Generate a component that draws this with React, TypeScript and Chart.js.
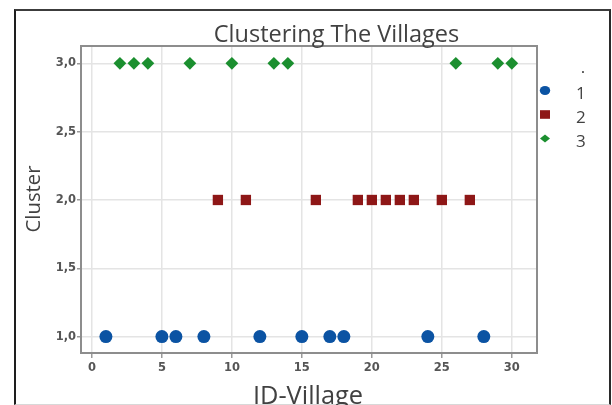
import React, { useEffect, useRef } from "react";
import { Chart, registerables } from "chart.js";

Chart.register(...registerables);

// ---- data ----
const cluster1Villages = [1, 5, 6, 8, 12, 15, 17, 18, 24, 28];
const cluster2Villages = [9, 11, 16, 19, 20, 21, 22, 23, 25, 27];
const cluster3Villages = [2, 3, 4, 7, 10, 13, 14, 26, 29, 30];
const clusterNames = ["1", "2", "3"];
const clusterValues = [1, 2, 3];
const xTickValues = [0, 5, 10, 15, 20, 25, 30];
const yTickValues = [1.0, 1.5, 2.0, 2.5, 3.0];
const yTickLabels = ["1,0", "1,5", "2,0", "2,5", "3,0"];
const chartTitle = "Clustering The Villages";
const xAxisTitle = "ID-Village";
const yAxisTitle = "Cluster";
const legendTitle = ".";

const colors = ["#0b53a3", "#8e1717", "#1b8f2f"];
const pointStyles = ["circle", "rect", "rectRot"];
const pointRadii = [6.5, 7.3, 6.4];

const textFont = '"Open Sans", "Noto Sans", sans-serif';
const tickFont = { family: '"DejaVu Sans", sans-serif', size: 11.5, weight: "bold" as const };

function drawLegendMarker(ctx: CanvasRenderingContext2D, style: string, x: number, y: number, color: string) {
  ctx.fillStyle = color;
  ctx.beginPath();
  if (style === "circle") {
    ctx.ellipse(x, y, 5.2, 4.6, 0, 0, Math.PI * 2);
  } else if (style === "rect") {
    ctx.rect(x - 5, y - 4.3, 10, 8.6);
  } else {
    ctx.moveTo(x - 5, y);
    ctx.lineTo(x, y - 4);
    ctx.lineTo(x + 5, y);
    ctx.lineTo(x, y + 4);
    ctx.closePath();
  }
  ctx.fill();
}

const decorPlugin = {
  id: "decor",
  afterDraw(chart: any) {
    const ctx: CanvasRenderingContext2D = chart.ctx;
    const area = chart.chartArea;
    ctx.save();
    // plot frame
    ctx.strokeStyle = "#8d8d8d";
    ctx.lineWidth = 2;
    ctx.strokeRect(area.left, area.top, area.right - area.left, area.bottom - area.top);

    // title
    ctx.fillStyle = "#414141";
    ctx.textAlign = "center";
    ctx.textBaseline = "alphabetic";
    ctx.font = `23.5px ${textFont}`;
    ctx.fillText(chartTitle, 336.5, 42);

    // x axis title
    ctx.font = `25.4px ${textFont}`;
    ctx.fillText(xAxisTitle, 308, 404);

    // y axis title
    ctx.save();
    ctx.translate(39.5, 199);
    ctx.rotate(-Math.PI / 2);
    ctx.font = `20.3px ${textFont}`;
    ctx.fillText(yAxisTitle, 0, 0);
    ctx.restore();

    // legend
    ctx.font = `17px ${textFont}`;
    ctx.fillStyle = "#414141";
    ctx.textAlign = "center";
    ctx.fillText(legendTitle, 583, 73);
    ctx.textAlign = "left";
    chart.data.datasets.forEach((ds: any, i: number) => {
      const baseY = 99 + i * 24;
      drawLegendMarker(ctx, pointStyles[i], 545, baseY - 8.5, colors[i]);
      ctx.fillStyle = "#414141";
      ctx.fillText(ds.label, 576, baseY);
    });
    ctx.restore();
  },
};

export default function App() {
  const canvasRef = useRef<HTMLCanvasElement | null>(null);

  useEffect(() => {
    if (!canvasRef.current) return;
    const groups = [cluster1Villages, cluster2Villages, cluster3Villages];
    const chart = new Chart(canvasRef.current, {
      type: "scatter",
      data: {
        datasets: groups.map((villages, i) => ({
          label: clusterNames[i],
          data: villages.map((v) => ({ x: v, y: clusterValues[i] })),
          pointStyle: pointStyles[i] as any,
          pointRadius: pointRadii[i],
          pointHoverRadius: pointRadii[i],
          backgroundColor: colors[i],
          borderColor: colors[i],
          borderWidth: 0,
          clip: false as any,
        })),
      },
      options: {
        animation: false,
        responsive: false,
        maintainAspectRatio: false,
        layout: { padding: { left: 0, top: 46, right: 75, bottom: 0 } },
        plugins: {
          legend: { display: false },
          title: { display: false },
          tooltip: { enabled: false },
        },
        scales: {
          x: {
            type: "linear",
            min: -0.78,
            max: 31.8,
            afterBuildTicks: (scale: any) => {
              scale.ticks = xTickValues.map((v) => ({ value: v }));
            },
            afterFit: (scale: any) => {
              scale.height = 52;
            },
            border: { display: false },
            grid: { color: "#e4e4e4", lineWidth: 1.5, tickLength: 5, tickColor: "#9a9a9a", tickWidth: 1.5 },
            ticks: {
              autoSkip: false,
              maxRotation: 0,
              padding: 3,
              color: "#555555",
              font: tickFont,
              callback: (v: any) => String(v),
            },
          },
          y: {
            type: "linear",
            min: 0.88,
            max: 3.127,
            afterBuildTicks: (scale: any) => {
              scale.ticks = yTickValues.map((v) => ({ value: v }));
            },
            afterFit: (scale: any) => {
              scale.width = 81;
            },
            border: { display: false },
            grid: { color: "#e4e4e4", lineWidth: 1.5, tickLength: 4, tickColor: "#9a9a9a", tickWidth: 1.5 },
            ticks: {
              autoSkip: false,
              padding: 1,
              color: "#555555",
              font: tickFont,
              callback: (v: any) => {
                const idx = yTickValues.findIndex((t) => Math.abs(t - Number(v)) < 1e-6);
                return idx >= 0 ? yTickLabels[idx] : "";
              },
            },
          },
        },
      },
      plugins: [decorPlugin],
    });
    return () => chart.destroy();
  }, []);

  return (
    <div style={{ position: "absolute", left: 0, top: 0, width: 612, height: 405, background: "#ffffff", overflow: "hidden" }}>
      <div
        style={{
          position: "absolute",
          left: 14,
          top: 9,
          width: 597,
          height: 396,
          boxSizing: "border-box",
          borderLeft: "2px solid #1e1e1e",
          borderTop: "2px solid #3c3c3c",
          borderRight: "2px solid #2a2a2a",
          borderBottom: "1px solid #d8d8d8",
        }}
      />
      <canvas ref={canvasRef} width={612} height={405} style={{ position: "absolute", left: 0, top: 0, width: 612, height: 405 }} />
    </div>
  );
}
